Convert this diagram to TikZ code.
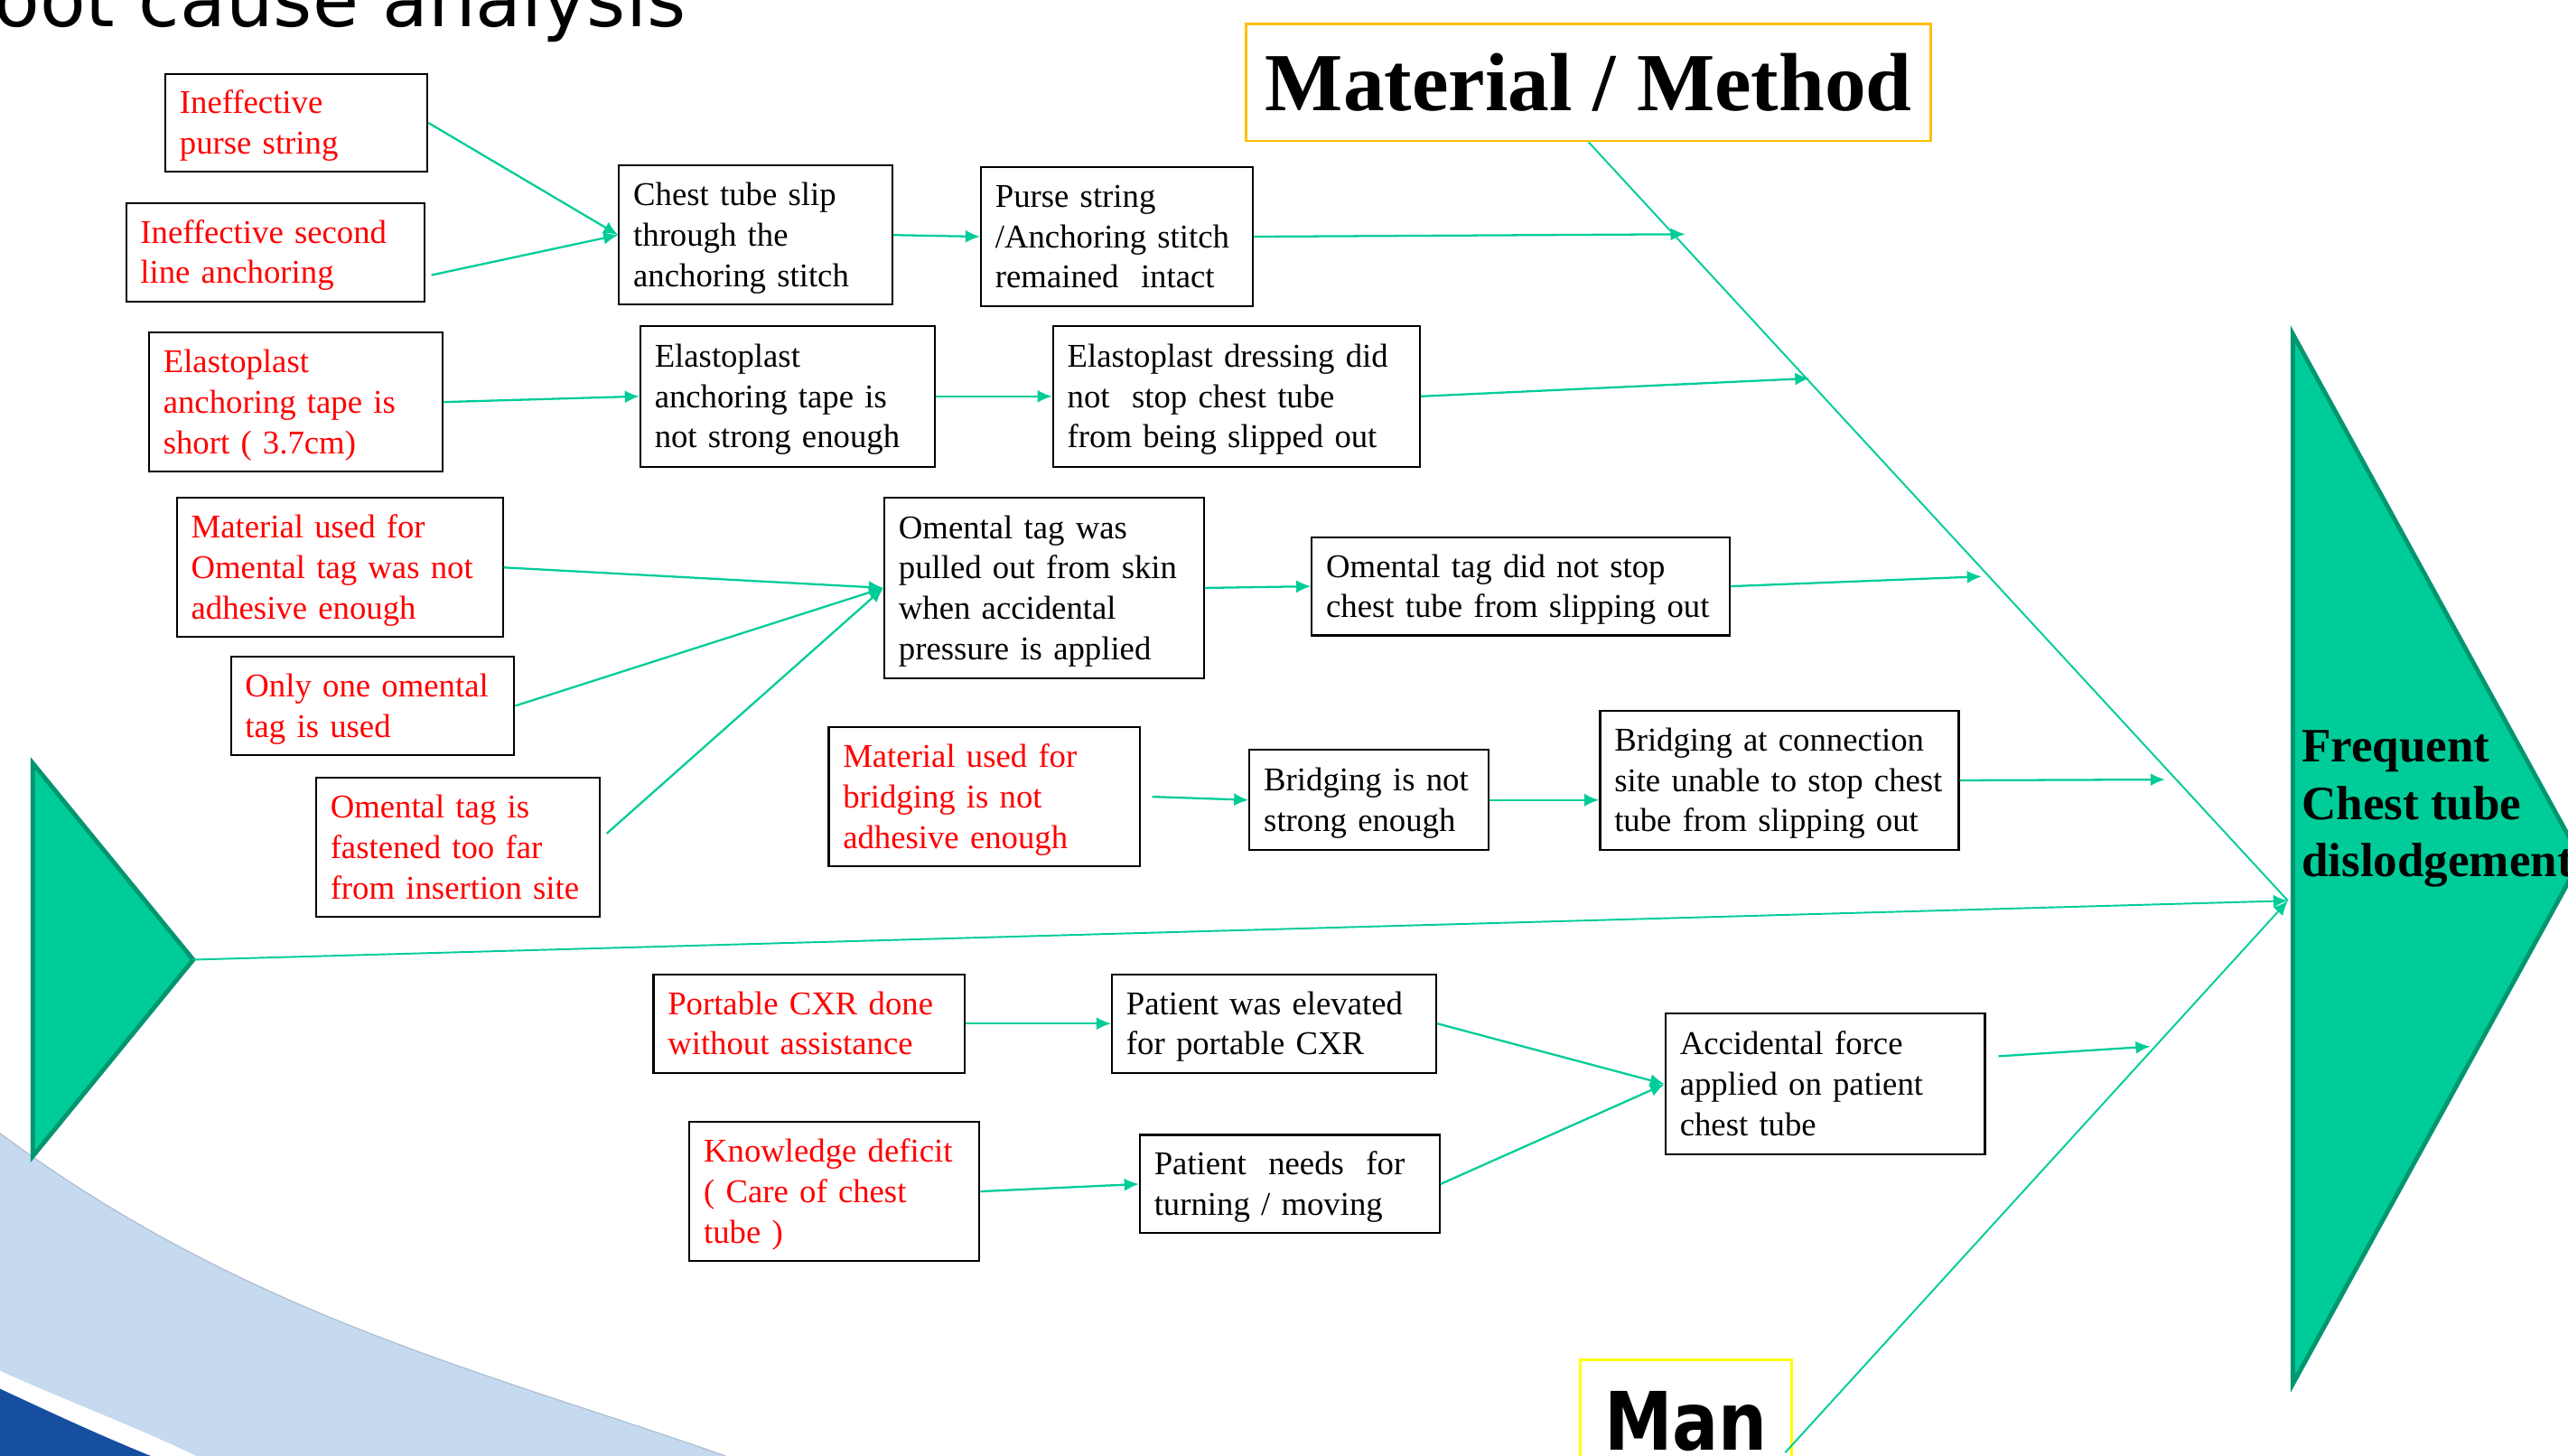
\documentclass[tikz,border=0pt]{standalone}
\usepackage{fontspec}
\usepackage{graphicx}
\setmainfont{Liberation Serif}
\newfontfamily\titlefont{DejaVu Sans}
\usetikzlibrary{arrows.meta}
\definecolor{fishgreen}{RGB}{0,204,153}
\definecolor{fishedge}{RGB}{0,150,112}
\definecolor{boxgold}{RGB}{255,192,0}
\definecolor{boxyellow}{RGB}{255,255,0}
\definecolor{swooshlight}{RGB}{197,217,239}
\definecolor{swooshedge}{RGB}{170,186,206}
\definecolor{swooshdark}{RGB}{22,78,160}
\tikzset{
  cause/.style={draw, line width=0.6pt, text=red, align=left, inner xsep=4.5pt, inner ysep=0pt,
    font=\fontsize{10.45}{12.7}\selectfont,
    execute at begin node={\rule{0pt}{9.5pt}}, execute at end node={\rule[-2.5pt]{0pt}{0pt}}},
  effect/.style={cause, text=black},
  link/.style={draw=fishgreen, line width=0.65pt, -{Latex[length=4.6pt,width=4pt]}},
  bone/.style={draw=fishgreen, line width=0.55pt},
  fish/.style={fill=fishgreen, draw=fishedge, line width=1.4pt}
}
\begin{document}
\begin{tikzpicture}[x=0.18131mm, y=-0.18131mm]
  \useasboundingbox (0,0) rectangle (1568,888.6);
  \fill[swooshlight] (0,692) .. controls (150,803) and (293,836.5) .. (443,889) -- (120,889) .. controls (80,870) and (40,855) .. (0,837) -- cycle;
  \draw[swooshedge, line width=0.3pt] (0,692) .. controls (150,803) and (293,836.5) .. (443,889);
  \fill[swooshdark] (0,848) .. controls (30,862) and (60,876) .. (92,889) -- (0,889) -- cycle;

  \node[anchor=base west, inner sep=0pt, font=\titlefont\fontsize{23.6}{28}\selectfont] (ttl) at (-4,16.5) {oot cause analysis};

  \coordinate (tl) at (118,586);
  \coordinate (hd) at (1397,550);
  \coordinate (mb) at (1090,887);
  \coordinate (a1) at (1029,143);
  \coordinate (a2) at (1105,231);
  \coordinate (a3) at (1210,352);
  \coordinate (a4) at (1322,476);
  \coordinate (a5) at (1313,639);

  \draw[fish] (20,466) -- (tl) -- (20,706) -- cycle;
  \draw[fish] (1400,204) -- (1576,524.5) -- (1400,845) -- cycle;
  \node[anchor=west, inner sep=0pt, align=left, font=\bfseries\fontsize{15.1}{18.1}\selectfont] (fx) at (1405,494) {Frequent\\Chest tube\\dislodgement};

  \node[draw=boxgold, line width=0.8pt, minimum width=215.6pt, minimum height=36.8pt, inner sep=0pt, font=\bfseries\fontsize{26}{30}\selectfont] (mm) at (970,50.35) {Material / Method};
  \node[draw=boxyellow, line width=0.8pt, minimum width=66.5pt, minimum height=38.7pt, inner sep=0pt, anchor=north, font=\titlefont\bfseries\fontsize{25.4}{30}\selectfont] (man) at (1029.5,829.5) {\scalebox{0.85}[1]{Man}};

  \draw[bone] (mm.south) -- (hd);
  \draw[link, line width=0.55pt] (tl) -- (hd);
  \draw[link, line width=0.55pt] (mb) -- (hd);

  \node[cause, text width=73.54pt, minimum height=30.95pt] (r1) at (181,75) {Ineffective\\purse string};
  \node[cause, text width=84.89pt, minimum height=30.95pt] (r2) at (168,154) {Ineffective second\\line anchoring};
  \node[cause, text width=83.34pt, minimum height=43.85pt] (r3) at (180.5,245.5) {Elastoplast\\anchoring tape is\\short ( 3.7cm)};
  \node[cause, text width=93.66pt, minimum height=43.85pt] (r4) at (207.5,346.5) {Material used for\\Omental tag was not\\adhesive enough};
  \node[cause, text width=80.24pt, minimum height=30.95pt] (r5) at (227.5,431) {Only one omental\\tag is used};
  \node[cause, text width=80.24pt, minimum height=43.85pt] (r6) at (279.5,517.5) {Omental tag is\\fastened too far\\from insertion site};
  \node[cause, text width=89.01pt, minimum height=43.85pt] (r7) at (601,486.5) {Material used for\\bridging is not\\adhesive enough};
  \node[cause, text width=89.01pt, minimum height=30.95pt] (r8) at (494,625) {Portable CXR done\\without assistance};
  \node[cause, text width=82.31pt, minimum height=43.85pt] (r9) at (509.5,727.5) {Knowledge deficit\\( Care of chest\\tube )};

  \node[effect, text width=77.15pt, minimum height=43.85pt] (b1) at (461.5,143.5) {Chest tube slip\\through the\\anchoring stitch};
  \node[effect, text width=76.63pt, minimum height=43.85pt] (b2) at (682,144.5) {Purse string\\/Anchoring stitch\\remained~ intact};
  \node[effect, text width=83.85pt, minimum height=44.36pt] (b3) at (481,242) {Elastoplast\\anchoring tape is\\not strong enough};
  \node[effect, text width=106.55pt, minimum height=44.36pt] (b4) at (755,242) {Elastoplast dressing did\\not~ stop chest tube\\from being slipped out};
  \node[effect, text width=91.59pt, minimum height=56.74pt] (b5) at (637.5,359) {Omental tag was\\pulled out from skin\\when accidental\\pressure is applied};
  \node[effect, text width=122.54pt, minimum height=30.95pt] (b6) at (928.5,358) {Omental tag did not stop\\chest tube from slipping out};
  \node[effect, text width=66.32pt, minimum height=31.47pt] (b7) at (836,488.5) {Bridging is not\\strong enough};
  \node[effect, text width=103.97pt, minimum height=43.85pt] (b8) at (1086.5,476.5) {Bridging at connection\\site unable to stop chest\\tube from slipping out};
  \node[effect, text width=93.14pt, minimum height=30.95pt] (b9) at (778,625) {Patient was elevated\\for portable CXR};
  \node[effect, text width=85.4pt, minimum height=30.95pt] (b10) at (787.5,723) {Patient~ needs~ for\\turning / moving};
  \node[effect, text width=91.59pt, minimum height=44.36pt] (b11) at (1114.5,662) {Accidental force\\applied on patient\\chest tube};

  \draw[link] (r1.east) -- (b1.west);
  \draw[link] ([shift={(2pt,-7.2pt)}]r2.east) -- (b1.west);
  \draw[link] (b1.east) -- (b2.west);
  \draw[link] (b2.east) -- (a1);
  \draw[link] (r3.east) -- (b3.west);
  \draw[link] (b3.east) -- (b4.west);
  \draw[link] (b4.east) -- (a2);
  \draw[link] (r4.east) -- (b5.west);
  \draw[link] (r5.east) -- (b5.west);
  \draw[link] ([shift={(2pt,4.4pt)}]r6.east) -- (b5.west);
  \draw[link] (b5.east) -- (b6.west);
  \draw[link] (b6.east) -- (a3);
  \draw[link] ([xshift=3.6pt]r7.east) -- (b7.west);
  \draw[link] (b7.east) -- (b7.east -| b8.west);
  \draw[link] (b8.east) -- (a4);
  \draw[link] (r8.east) -- (b9.west);
  \draw[link] (r9.east) -- (b10.west);
  \draw[link] (b9.east) -- (b11.west);
  \draw[link] (b10.east) -- (b11.west);
  \draw[link] ([shift={(4pt,8.8pt)}]b11.east) -- (a5);
\end{tikzpicture}
\end{document}
